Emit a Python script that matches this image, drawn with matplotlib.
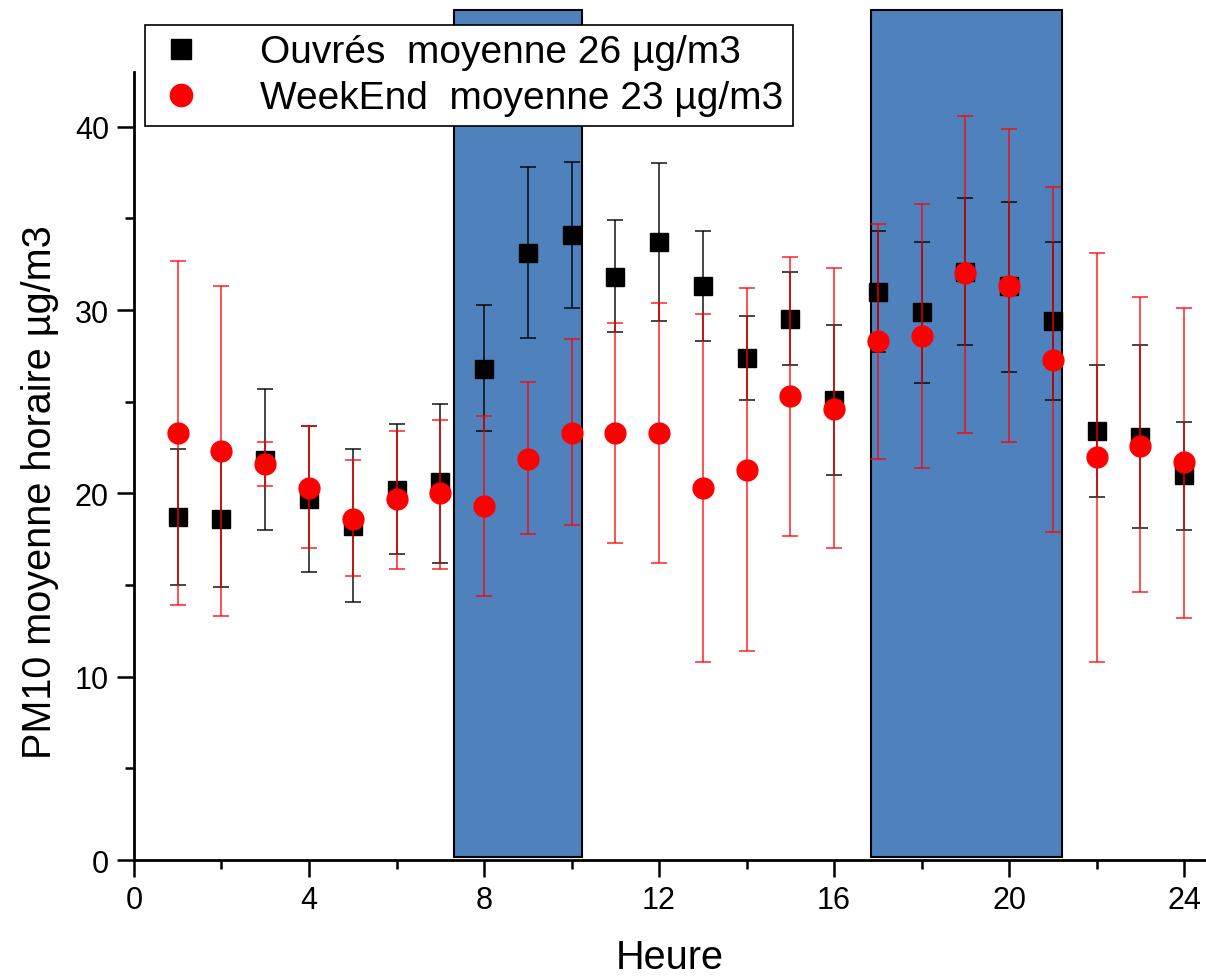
import matplotlib
matplotlib.use("Agg")
import matplotlib.pyplot as plt
from matplotlib.patches import Rectangle
from matplotlib.lines import Line2D
from matplotlib.ticker import MultipleLocator

plt.rcParams['font.family'] = ['Liberation Sans', 'DejaVu Sans']

heures = list(range(1, 25))

# jours ouvrés : moyenne, borne basse, borne haute
ouvres = [18.7, 18.6, 21.8, 19.7, 18.2, 20.2, 20.6, 26.8, 33.1, 34.1, 31.8, 33.7,
          31.3, 27.4, 29.5, 25.1, 31.0, 29.9, 32.1, 31.3, 29.4, 23.4, 23.1, 21.0]
ouvres_bas = [15.0, 14.9, 18.0, 15.7, 14.1, 16.7, 16.2, 23.4, 28.5, 30.1, 28.8, 29.4,
              28.3, 25.1, 27.0, 21.0, 27.7, 26.0, 28.1, 26.6, 25.1, 19.8, 18.1, 18.0]
ouvres_haut = [22.4, 22.1, 25.7, 23.7, 22.4, 23.8, 24.9, 30.3, 37.8, 38.1, 34.9, 38.0,
               34.3, 29.7, 32.1, 29.2, 34.3, 33.7, 36.1, 35.9, 33.7, 27.0, 28.1, 23.9]

# week-end
weekend = [23.3, 22.3, 21.6, 20.3, 18.6, 19.7, 20.0, 19.3, 21.9, 23.3, 23.3, 23.3,
           20.3, 21.3, 25.3, 24.6, 28.3, 28.6, 32.0, 31.3, 27.3, 22.0, 22.6, 21.7]
weekend_bas = [13.9, 13.3, 20.4, 17.0, 15.5, 15.9, 15.9, 14.4, 17.8, 18.3, 17.3, 16.2,
               10.8, 11.4, 17.7, 17.0, 21.9, 21.4, 23.3, 22.8, 17.9, 10.8, 14.6, 13.2]
weekend_haut = [32.7, 31.3, 22.8, 23.7, 21.8, 23.4, 24.0, 24.2, 26.1, 28.4, 29.3, 30.4,
                29.8, 31.2, 32.9, 32.3, 34.7, 35.8, 40.6, 39.9, 36.7, 33.1, 30.7, 30.1]

# heures de pointe
pointes = [(7.32, 10.25), (16.84, 21.21)]

fig = plt.figure(figsize=(12.06, 9.78), dpi=100)
ax = fig.add_axes([0.1111, 0.1196, 0.8889, 0.8061])
ax.set_xlim(0, 24.5)
ax.set_ylim(0, 43)

for debut, fin in pointes:
    ax.add_patch(Rectangle((debut, 0.18), fin - debut, 46.2, facecolor='#4f81bd',
                           edgecolor='black', linewidth=1.5, clip_on=False, zorder=1))

err_o = [[m - b for m, b in zip(ouvres, ouvres_bas)],
         [h - m for m, h in zip(ouvres, ouvres_haut)]]
err_w = [[m - b for m, b in zip(weekend, weekend_bas)],
         [h - m for m, h in zip(weekend, weekend_haut)]]

ax.errorbar(heures, ouvres, yerr=err_o, fmt='s', color='black', ms=12.5,
            ecolor=(0, 0, 0, 0.85), elinewidth=1.2, capsize=6, capthick=1.2, zorder=3)
ax.errorbar(heures, weekend, yerr=err_w, fmt='o', color='red', ms=15,
            ecolor=(1, 0, 0, 0.8), elinewidth=1.2, capsize=6, capthick=1.2, zorder=4)

ax.spines['top'].set_visible(False)
ax.spines['right'].set_visible(False)
ax.spines['left'].set_linewidth(2)
ax.spines['bottom'].set_linewidth(2)

ax.xaxis.set_major_locator(MultipleLocator(4))
ax.xaxis.set_minor_locator(MultipleLocator(2))
ax.yaxis.set_major_locator(MultipleLocator(10))
ax.yaxis.set_minor_locator(MultipleLocator(5))
ax.tick_params(which='major', direction='out', length=12, width=1.8, labelsize=22, pad=6)
ax.tick_params(which='minor', direction='out', length=6.5, width=1.8)

fig.text(670 / 1206, 1 - 958 / 978, 'Heure', fontsize=28.5, ha='center', va='center')
fig.text(40 / 1206, 1 - 492 / 978, 'PM10 moyenne horaire µg/m3', fontsize=28.5,
         rotation=90, ha='center', va='center')

# légende : marqueurs seuls, sans barres d'erreur
poignees = [Line2D([], [], ls='none', marker='s', color='black', ms=14),
            Line2D([], [], ls='none', marker='o', color='red', ms=16)]
etiquettes = ['Ouvrés  moyenne 26 µg/m3', 'WeekEnd  moyenne 23 µg/m3']
leg = ax.legend(poignees, etiquettes, loc='upper left',
                bbox_to_anchor=(145 / 1206, 1 - 26 / 978), bbox_transform=fig.transFigure,
                fontsize=28, frameon=True, fancybox=False, framealpha=1,
                edgecolor='black', borderpad=0.24, handletextpad=1.34,
                labelspacing=0.26, handlelength=1.38, borderaxespad=0)
leg.get_frame().set_linewidth(1.2)
leg.set_zorder(10)

fig.savefig('out.png', dpi=100)
